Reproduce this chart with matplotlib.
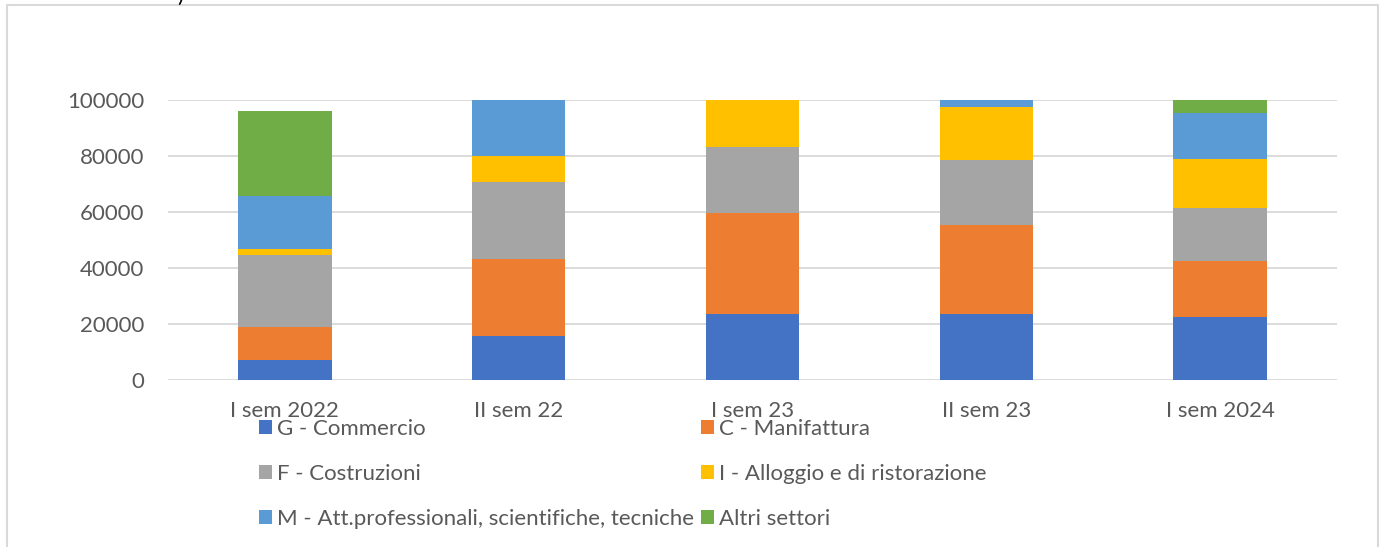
import numpy as np
import matplotlib.pyplot as plt
from matplotlib.lines import Line2D
from matplotlib.patches import Patch

plt.rcParams['font.family'] = ['Lato', 'DejaVu Sans']

categories = ['I sem 2022', 'II sem 22', 'I sem 23', 'II sem 23', 'I sem 2024']

# imprese per settore (stacked, the axis stops at 100000)
commercio = [7100, 15800, 23700, 23700, 22400]
manifattura = [11700, 27500, 35800, 31800, 20200]
costruzioni = [25700, 27500, 23800, 23200, 18800]
alloggio = [2200, 9200, 19500, 18900, 17500]
professionali = [18900, 21500, 9000, 9500, 16400]
altri = [30600, 15200, 14000, 14500, 12600]

series = [
    ('G - Commercio', commercio, '#4472C4'),
    ('C - Manifattura', manifattura, '#ED7D31'),
    ('F - Costruzioni', costruzioni, '#A5A5A5'),
    ('I - Alloggio e di ristorazione', alloggio, '#FFC000'),
    ('M - Att.professionali, scientifiche, tecniche', professionali, '#5B9BD5'),
    ('Altri settori', altri, '#70AD47'),
]

W, H = 1384, 547
txt = '#595959'
grid = '#D9D9D9'

fig = plt.figure(figsize=(W / 100, H / 100), dpi=100)
ax = fig.add_axes([168 / W, 1 - 380 / H, 1169 / W, 280 / H])

x = np.arange(len(categories))
bottom = np.zeros(len(categories))
for name, vals, col in series:
    ax.bar(x, vals, 0.4, bottom=bottom, color=col, linewidth=0, zorder=3)
    bottom += np.array(vals)

ax.set_xlim(-0.5, len(categories) - 0.5)
ax.set_ylim(0, 100000)
ax.set_yticks(np.arange(0, 100001, 20000))
ax.set_xticks(x)
ax.set_xticklabels(categories)
ax.yaxis.grid(True, color=grid, linewidth=1.3, zorder=0)
ax.set_axisbelow(True)
for s in ax.spines.values():
    s.set_visible(False)
ax.tick_params(axis='both', length=0, labelsize=16, labelcolor=txt)
ax.tick_params(axis='y', pad=17)
ax.tick_params(axis='x', pad=15)

# legend in two columns, Excel-style, sitting over the category labels
left = [series[0], series[2], series[4]]
right = [series[1], series[3], series[5]]
for group, xpos in [(left, 259), (right, 701)]:
    handles = [Patch(facecolor=c, edgecolor='none') for _, _, c in group]
    fig.legend(handles, [n for n, _, _ in group], loc='upper left',
               bbox_to_anchor=(xpos / W, 1 - 419 / H),
               bbox_transform=fig.transFigure, frameon=False,
               fontsize=16, labelcolor=txt, borderpad=0,
               borderaxespad=0, handlelength=0.6, handleheight=0.6,
               handletextpad=0.2, labelspacing=1.13)

# chart area border
bc = '#D9D9D9'
fx0, fx1, fy1 = 7 / W, 1378 / W, 1 - 5 / H
fig.add_artist(Line2D([fx0, fx0, fx1, fx1], [0, fy1, fy1, 0],
                      transform=fig.transFigure, color=bc, linewidth=1.5))

# tail of the title above the chart
fig.text(177 / W, 1 - 2 / H, ')', fontsize=16, color='black', va='baseline')

fig.savefig('out.png', dpi=100)
